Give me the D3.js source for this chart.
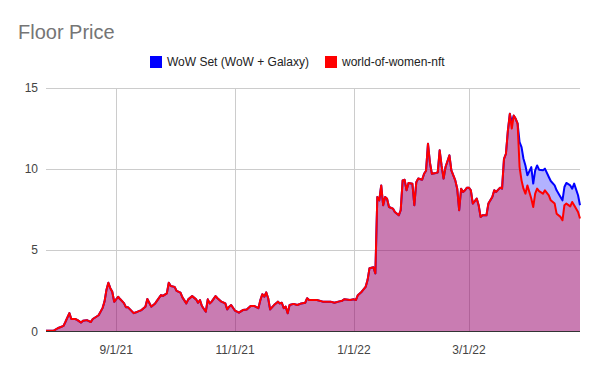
<!DOCTYPE html>
<html lang="en">
<head>
    <meta charset="UTF-8">
    <title>Floor Price</title>
    <style>
        body { margin: 0; background: #fff; }
        #chart { width: 600px; height: 371px; display: block; }
        text { font-family: "Liberation Sans", Arial, sans-serif; }
    </style>
</head>
<body>
    <svg id="chart" width="600" height="371"></svg>
    <script src="https://d3js.org/d3.v7.min.js"></script>
    <script>
        // series names + colours
        const seriesNames = ["WoW Set (WoW + Galaxy)", "world-of-women-nft"];
        const seriesColors = ["#0000ff", "#ff0000"];

        // dates (m/d/yy) and floor prices
        const dates = [
            "7/27/21","7/31/21","8/2/21","8/5/21","8/6/21","8/8/21","8/9/21","8/11/21","8/12/21","8/14/21",
            "8/15/21","8/17/21","8/19/21","8/20/21","8/23/21","8/25/21","8/26/21","8/27/21","8/28/21","8/29/21",
            "8/30/21","8/31/21","9/2/21","9/3/21","9/5/21","9/6/21","9/7/21","9/8/21","9/10/21","9/12/21",
            "9/14/21","9/16/21","9/17/21","9/19/21","9/21/21","9/24/21","9/25/21","9/27/21","9/28/21","9/29/21",
            "10/1/21","10/2/21","10/4/21","10/5/21","10/7/21","10/8/21","10/10/21","10/12/21","10/13/21","10/14/21",
            "10/15/21","10/17/21","10/18/21","10/19/21","10/20/21","10/22/21","10/23/21","10/25/21","10/27/21","10/28/21",
            "10/29/21","10/30/21","11/1/21","11/3/21","11/5/21","11/7/21","11/9/21","11/11/21","11/13/21","11/14/21",
            "11/15/21","11/16/21","11/17/21","11/18/21","11/19/21","11/21/21","11/23/21","11/24/21","11/25/21","11/26/21",
            "11/27/21","11/28/21","11/29/21","12/1/21","12/3/21","12/5/21","12/7/21","12/8/21","12/9/21","12/13/21",
            "12/16/21","12/20/21","12/22/21","12/24/21","12/26/21","12/27/21","12/30/21","1/1/22","1/2/22","1/3/22",
            "1/5/22","1/7/22","1/8/22","1/9/22","1/11/22","1/12/22","1/13/22","1/14/22","1/15/22","1/16/22",
            "1/17/22","1/18/22","1/19/22","1/21/22","1/22/22","1/24/22","1/25/22","1/26/22","1/27/22","1/28/22",
            "1/29/22","1/31/22","2/1/22","2/2/22","2/3/22","2/5/22","2/6/22","2/7/22","2/8/22","2/9/22",
            "2/10/22","2/12/22","2/13/22","2/14/22","2/15/22","2/16/22","2/17/22","2/19/22","2/20/22","2/22/22",
            "2/23/22","2/24/22","2/25/22","2/26/22","2/27/22","2/28/22","3/1/22","3/2/22","3/3/22","3/5/22",
            "3/6/22","3/7/22","3/8/22","3/10/22","3/11/22","3/13/22","3/14/22","3/15/22","3/17/22","3/18/22",
            "3/19/22","3/20/22","3/21/22","3/22/22","3/23/22","3/24/22","3/25/22","3/26/22","3/27/22","3/28/22",
            "3/29/22","3/30/22","3/31/22","4/2/22","4/3/22","4/4/22","4/5/22","4/6/22","4/8/22","4/9/22",
            "4/11/22","4/12/22","4/14/22","4/15/22","4/17/22","4/18/22","4/19/22","4/20/22","4/22/22","4/23/22",
            "4/24/22","4/26/22","4/27/22"
        ];

        const wowNft = [
            0.05,0.05,0.2,0.35,0.6,1.13,0.77,0.77,0.72,0.55,
            0.66,0.7,0.58,0.77,1.0,1.44,1.83,2.55,3.0,2.67,
            2.45,1.83,2.14,2.0,1.75,1.5,1.5,1.38,1.13,1.22,
            1.32,1.53,2.0,1.53,1.73,2.24,2.19,2.35,3.0,2.8,
            2.75,2.5,2.39,2.1,1.73,1.98,2.18,1.98,1.77,1.93,
            1.57,1.22,1.98,1.73,1.84,2.18,2.05,1.84,1.73,1.36,
            1.53,1.63,1.28,1.16,1.32,1.36,1.57,1.57,1.44,1.94,
            2.3,2.14,2.41,2.05,1.36,1.63,1.84,1.73,1.77,1.44,
            1.53,1.12,1.63,1.7,1.63,1.73,1.77,2.05,1.94,1.94,
            1.84,1.84,1.77,1.84,1.9,1.98,1.94,1.98,1.94,2.24,
            2.45,2.75,3.17,3.9,3.96,3.58,8.29,8.08,9.0,7.78,
            8.29,8.18,7.67,7.57,7.36,7.16,7.47,9.31,9.35,8.7,
            9.15,9.1,7.78,9.2,9.42,9.35,9.72,9.9,11.57,10.4,
            9.72,9.77,9.8,11.16,10.2,9.42,10.13,10.85,9.93,9.31,
            8.8,7.47,8.8,8.6,8.7,8.86,8.86,8.7,7.88,8.19,
            7.78,7.06,7.16,7.16,7.88,8.29,8.7,8.6,8.86,8.8,
            10.64,10.95,12.38,13.41,12.5,13.3,13.1,12.8,10.13,9.31,
            8.8,8.49,9.0,8.19,7.67,8.49,8.8,8.65,8.49,8.7,
            8.39,8.08,7.88,7.26,7.06,6.85,7.78,7.88,7.71,7.98,
            7.78,7.36,6.96
        ];

        // WoW Set follows the main collection until late March
        const wowSetTail = [
            12.9,13.3,13.1,12.8,11.67,11.36,
            10.64,10.23,9.62,10.13,9.11,9.93,10.23,9.97,9.93,10.03,
            9.52,9.27,9.0,8.7,8.29,8.08,8.9,9.15,9.0,8.8,
            9.11,8.39,7.78
        ];
        const wowSet = wowNft.slice(0, wowNft.length - wowSetTail.length).concat(wowSetTail);

        const yTicks = [0, 5, 10, 15];
        const xTickLabels = ["9/1/21", "11/1/21", "1/1/22", "3/1/22"];

        const parse = d3.timeParse("%m/%d/%y");
        const svg = d3.select("#chart");

        const x = d3.scaleTime()
            .domain([parse("7/27/21"), parse("4/27/22")])
            .range([46, 580]);
        const y = d3.scaleLinear().domain([0, 15]).range([331.5, 88]);

        // title
        svg.append("text")
            .attr("x", 18).attr("y", 39)
            .attr("font-size", 20)
            .attr("fill", "#757575")
            .text("Floor Price");

        // gridlines
        svg.append("g")
            .selectAll("line")
            .data(yTicks.slice(1))
            .join("line")
            .attr("x1", 46).attr("x2", 580)
            .attr("y1", d => Math.round(y(d)) + 0.5)
            .attr("y2", d => Math.round(y(d)) + 0.5)
            .attr("stroke", "#cccccc");

        svg.append("g")
            .selectAll("line")
            .data(xTickLabels)
            .join("line")
            .attr("x1", d => Math.round(x(parse(d))) + 0.5)
            .attr("x2", d => Math.round(x(parse(d))) + 0.5)
            .attr("y1", 88).attr("y2", 331.5)
            .attr("stroke", "#cccccc");

        // areas + lines
        const series = [wowSet, wowNft];
        series.forEach((vals, i) => {
            const pts = dates.map((d, j) => [parse(d), vals[j]]);
            svg.append("path")
                .datum(pts)
                .attr("fill", seriesColors[i])
                .attr("fill-opacity", 0.3)
                .attr("d", d3.area().x(d => x(d[0])).y0(y(0)).y1(d => y(d[1])));
        });
        series.forEach((vals, i) => {
            const pts = dates.map((d, j) => [parse(d), vals[j]]);
            svg.append("path")
                .datum(pts)
                .attr("fill", "none")
                .attr("stroke", seriesColors[i])
                .attr("stroke-width", 2)
                .attr("stroke-linejoin", "round")
                .attr("d", d3.line().x(d => x(d[0])).y(d => y(d[1])));
        });

        // baseline
        svg.append("line")
            .attr("x1", 46).attr("x2", 580)
            .attr("y1", 331.5).attr("y2", 331.5)
            .attr("stroke", "#333333");

        // y labels
        svg.append("g")
            .selectAll("text")
            .data(yTicks)
            .join("text")
            .attr("x", 38)
            .attr("y", d => y(d) + 4)
            .attr("text-anchor", "end")
            .attr("font-size", 12)
            .attr("fill", "#444444")
            .text(d => d);

        // x labels
        svg.append("g")
            .selectAll("text")
            .data(xTickLabels)
            .join("text")
            .attr("x", d => x(parse(d)))
            .attr("y", 354)
            .attr("text-anchor", "middle")
            .attr("font-size", 12)
            .attr("fill", "#444444")
            .text(d => d);

        // legend
        const legend = svg.append("g");
        const legendX = [150, 325];
        seriesNames.forEach((name, i) => {
            legend.append("rect")
                .attr("x", legendX[i]).attr("y", 56)
                .attr("width", 12).attr("height", 12)
                .attr("fill", seriesColors[i]);
            legend.append("text")
                .attr("x", legendX[i] + 17).attr("y", 66)
                .attr("font-size", 12)
                .attr("fill", "#222222")
                .text(name);
        });
    </script>
</body>
</html>
